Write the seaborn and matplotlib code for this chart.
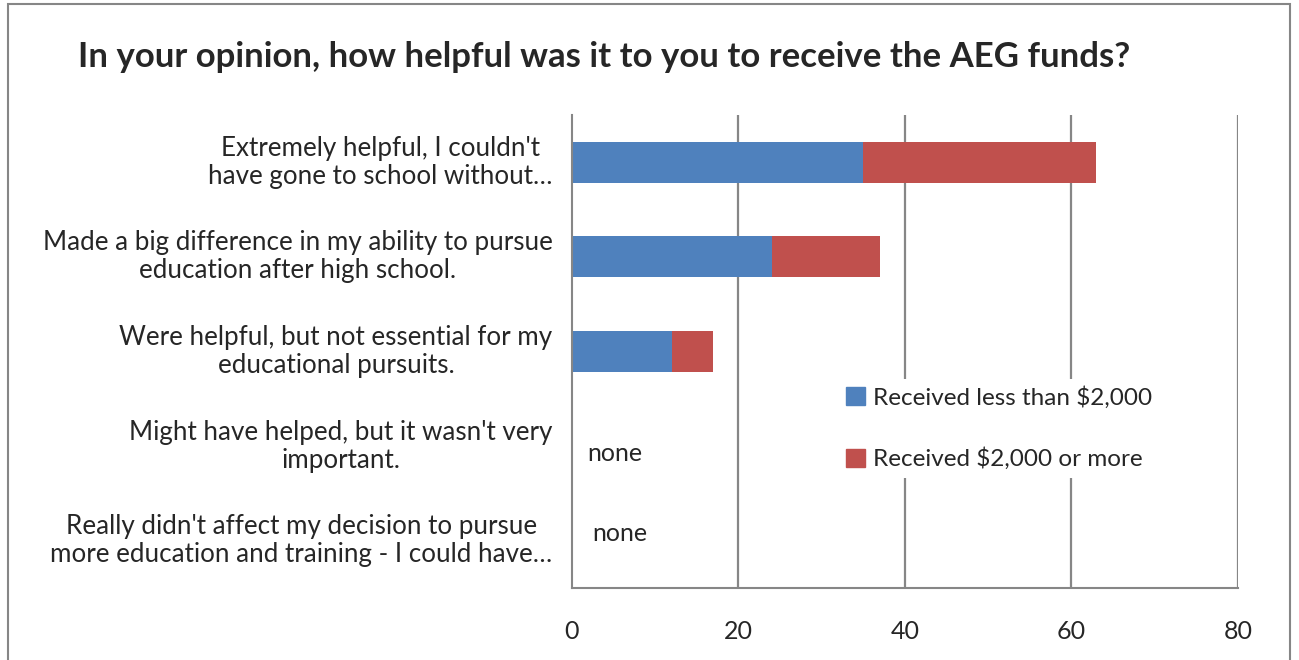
import matplotlib
matplotlib.use("Agg")
import matplotlib.pyplot as plt
import matplotlib.patches as mpatches
import pandas as pd
import seaborn as sns

categories = [
    "Extremely helpful, I couldn't\nhave gone to school without…",
    "Made a big difference in my ability to pursue\neducation after high school.",
    "Were helpful, but not essential for my\neducational pursuits.",
    "Might have helped, but it wasn't very\nimportant.",
    "Really didn't affect my decision to pursue\nmore education and training - I could have…",
]
less_2000 = [35, 24, 12, 0, 0]
more_2000 = [28, 13, 5, 0, 0]
series_names = ["Received less than $2,000", "Received $2,000 or more"]
x_ticks = [0, 20, 40, 60, 80]

blue = "#4f81bd"
red = "#c0504d"
grey = "#868686"
fs = 18

df = pd.DataFrame({"cat": categories, "less": less_2000, "more": more_2000})
df["total"] = df["less"] + df["more"]

sns.set_style("white")
plt.rcParams["font.family"] = ["Lato", "DejaVu Sans"]

fig = plt.figure(figsize=(12.99, 6.60), dpi=100)
ax = fig.add_axes([0.4403, 0.1091, 0.5127, 0.7167])

sns.barplot(data=df, y="cat", x="total", color=red, orient="h", width=0.435,
            saturation=1, ax=ax, order=categories)
sns.barplot(data=df, y="cat", x="less", color=blue, orient="h", width=0.435,
            saturation=1, ax=ax, order=categories)
for p in ax.patches:
    p.set_edgecolor("none")

ax.set_xlim(0, 80)
ax.set_ylim(4.5, -0.5)
ax.set_xticks(x_ticks)
ax.set_xticklabels([str(t) for t in x_ticks], fontsize=fs)
ax.set_yticks(range(len(categories)))
ax.set_yticklabels(categories, fontsize=18.7, multialignment="center",
                   linespacing=1.15, va="center")
ax.set_yticks([i - 0.5 for i in range(len(categories) + 1)], minor=True)
ax.tick_params(axis="y", which="major", length=0, pad=14)
ax.tick_params(axis="y", which="minor", length=6, color=grey, width=1.5, direction="out")
ax.tick_params(axis="x", length=6, color=grey, width=1.5, direction="out", pad=17)
ax.set_xlabel("")
ax.set_ylabel("")

for x in x_ticks[1:]:
    ax.axvline(x, color=grey, lw=1.6, zorder=0)
sns.despine(ax=ax, top=True, right=True)
for s in ["left", "bottom"]:
    ax.spines[s].set_color(grey)
    ax.spines[s].set_linewidth(1.5)

ax.text(1.8, 3.08, "none", fontsize=fs, va="center", ha="left")
ax.text(2.4, 3.92, "none", fontsize=fs, va="center", ha="left")

handles = [mpatches.Patch(color=blue), mpatches.Patch(color=red)]
leg = ax.legend(handles, series_names, loc="upper left", bbox_to_anchor=(0.383, 0.468),
                frameon=True, fontsize=17.5, handlelength=0.75, handleheight=0.75,
                handletextpad=0.35, labelspacing=1.6, borderpad=0.3)
leg.get_frame().set_edgecolor("none")
leg.get_frame().set_facecolor("white")
leg.get_frame().set_alpha(1)

fig.text(0.06, 0.913, "In your opinion, how helpful was it to you to receive the AEG funds?",
         fontsize=25, fontweight="bold", ha="left", va="center")

fig.patches.append(mpatches.Rectangle((8 / 1299, -0.05), (1290 - 8) / 1299, 1.05 - 4 / 660,
                                      transform=fig.transFigure, fill=False,
                                      edgecolor=grey, lw=1.5))

fig.savefig("out.png", dpi=100)
